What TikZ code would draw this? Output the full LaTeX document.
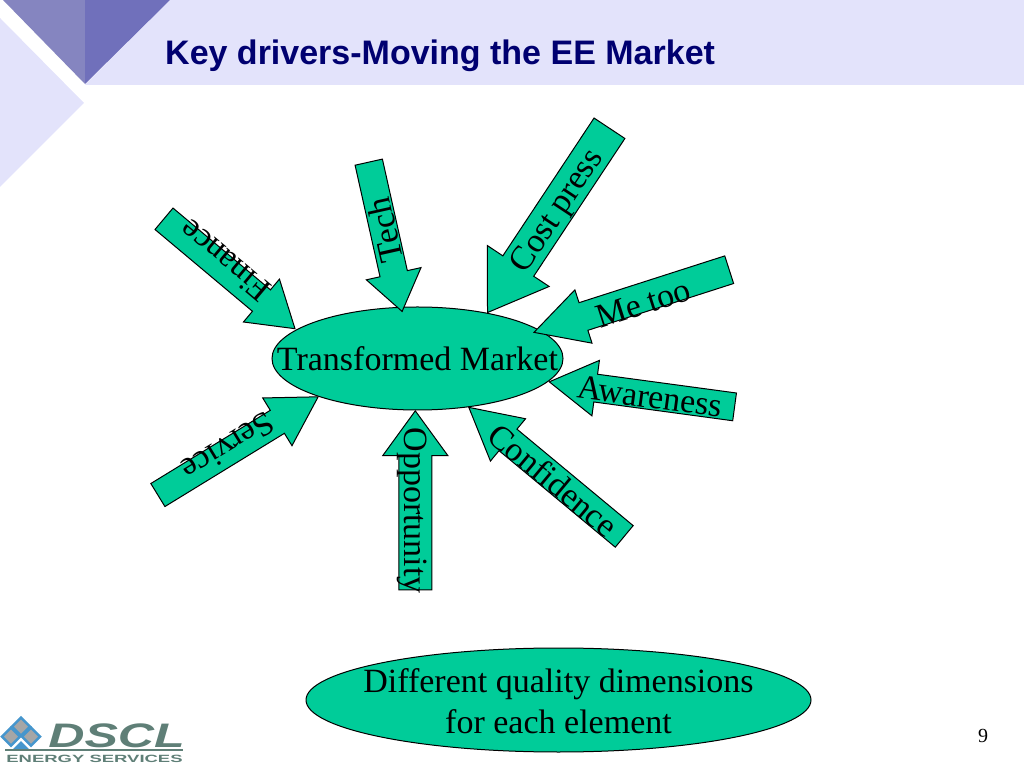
\documentclass[tikz,border=0pt]{standalone}
\usepackage{fontspec}
\setmainfont{Liberation Serif}
\newfontfamily\arialfont{Liberation Sans}
\usetikzlibrary{shapes.arrows,shapes.geometric}
\definecolor{sea}{HTML}{00CC99}
\definecolor{band}{HTML}{E3E3FB}
\definecolor{navy}{HTML}{000070}
\definecolor{logogrey}{HTML}{5F7F77}
\definecolor{logoblue}{HTML}{4696CD}
\definecolor{tipleft}{HTML}{8585C0}
\definecolor{tipright}{HTML}{7070BB}
\begin{document}
\begin{tikzpicture}[
		x=1pt, y=1pt,
		% length, head width, tail width, head length
		driver/.style n args = {4}{draw=black, fill=sea, line width=1pt, single arrow, anchor=tip, inner sep=0pt,
			minimum height=#1, text height=#3, text depth=0pt,
			single arrow head extend={(#2-#3)/2},
			single arrow tip angle={2*atan(#2/2/#4)}},
		lab/.style = {font=\fontsize{34}{38}\selectfont, inner sep=0pt},
		main/.style = {draw=black, fill=sea, line width=1pt, ellipse, inner sep=0pt}
	]
	\useasboundingbox (0,0) rectangle (1024,768);
	% Draw the header shapes.
	\fill[band] (170,768) -- (1024,768) -- (1024,683) -- (85,683) -- cycle;
	\fill[band] (0,750) -- (84,665) -- (0,581) -- cycle;
	\fill[tipleft] (3,768) -- (85,768) -- (85,684) -- cycle;
	\fill[tipright] (85,768) -- (170,768) -- (85,684) -- cycle;
	\node[anchor=base west, inner sep=0pt, text=navy, font=\arialfont\bfseries\fontsize{34}{38}\selectfont] (title) at (165,703) {Key drivers-Moving the EE Market};
	% Draw the drivers.
	\node[main, minimum width=291pt, minimum height=103pt] (market) at (417.5,409.5) {};
	\node[driver={171}{55}{27}{43}, rotate=-40] (finance) at (295.7,438.7) {};
	\node[driver={153}{55}{27}{38}, rotate=-77.4] (tech) at (402.3,455.7) {};
	\node[driver={221}{73}{36}{55}, rotate=-123.5] (cost) at (487,454.7) {};
	\node[driver={205}{55}{28}{51}, rotate=-162.2] (metoo) at (533,435.3) {};
	\node[driver={187}{55}{27}{46}, rotate=172.3] (aware) at (548.3,386.3) {};
	\node[driver={202}{54}{27}{50}, rotate=140.3] (conf) at (468,361.3) {};
	\node[driver={179}{64}{32}{44}, rotate=90] (opp) at (415.3,358) {};
	\node[driver={188}{55}{26}{47}, rotate=31.5] (service) at (319,371.7) {};
	\node[lab] (marketlab) at (417.5,409) {Transformed Market};
	% Draw the driver labels.
	\node[lab, rotate=140] (financelab) at (225,507.3) {Finance};
	\node[lab, rotate=102.6] (techlab) at (385,538) {Tech};
	\node[lab, rotate=56.5] (costlab) at (558.3,556.3) {Cost press};
	\node[lab, rotate=17.8] (metoolab) at (643.3,464.7) {Me too};
	\node[lab, rotate=-7.7] (awarelab) at (650,371.3) {Awareness};
	\node[lab, rotate=-39.7] (conflab) at (553.3,288) {Confidence};
	\node[lab, rotate=-90] (opplab) at (411.7,257.3) {Opportunity};
	\node[lab, rotate=211.5] (servicelab) at (228.3,321.3) {Service};
	% Draw the note and the page number.
	\node[main, minimum width=505pt, minimum height=104pt] (note) at (558.5,68) {};
	\node[lab, align=center, font=\fontsize{34}{41}\selectfont] (notelab) at (558.5,67) {Different quality dimensions\\for each element};
	\node[inner sep=0pt, font=\fontsize{20}{22}\selectfont] (page) at (983,32.5) {9};
	% Draw the logo.
	\foreach \cx/\cy/\nm in {21/41.3/top, 11/31.3/left, 31/31.3/right}{
		\node[diamond, fill=white!30!gray, draw=logoblue, line width=2.5pt, minimum size=19pt, inner sep=0pt] (logo\nm) at (\cx,\cy) {};
	}
	\fill[logoblue] (13,19) -- (21,27) -- (29,19) -- cycle;
	\node[anchor=base west, inner sep=0pt, text=logogrey, xscale=1.475, font=\arialfont\bfseries\itshape\fontsize{34}{36}\selectfont] (dscl) at (48,21) {DSCL};
	\fill[logogrey] (5,17.5) rectangle (183,18.7);
	\node[anchor=base west, inner sep=0pt, text=logogrey, xscale=1.76, font=\arialfont\bfseries\fontsize{10.5}{12}\selectfont] (energy) at (6,6) {ENERGY SERVICES};
\end{tikzpicture}
\end{document}
